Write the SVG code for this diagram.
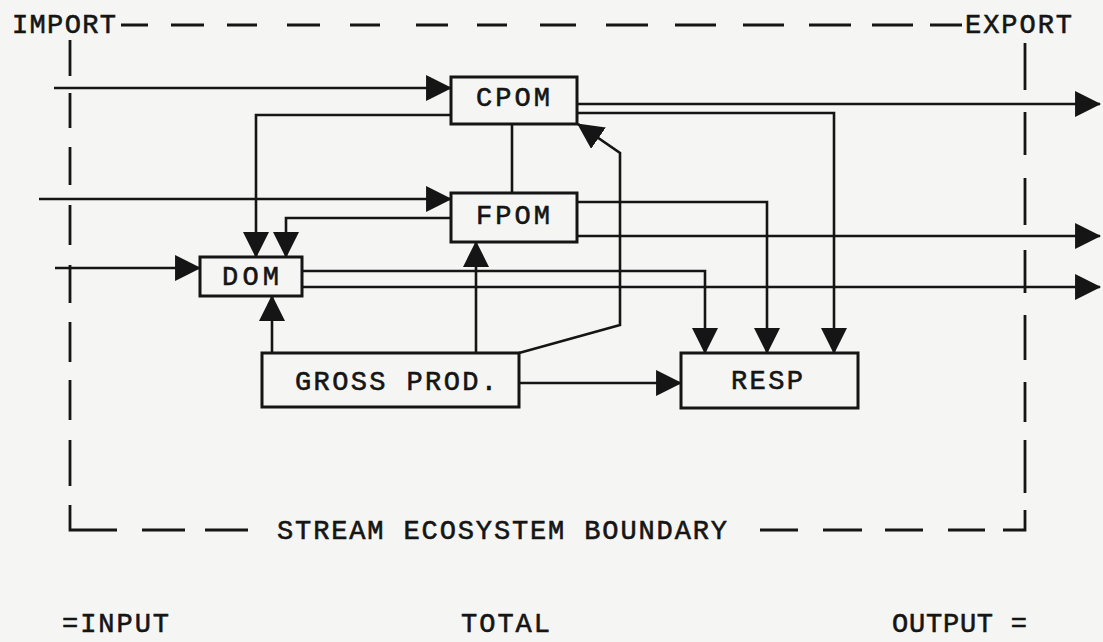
<svg xmlns="http://www.w3.org/2000/svg" width="1103" height="642" viewBox="0 0 1103 642">
<style>
.t{font-family:"Liberation Mono","DejaVu Sans Mono",monospace;font-size:27px;fill:#151515;stroke:#151515;stroke-width:0.6}
.box{fill:none;stroke:#151515;stroke-width:3}
.ln{fill:none;stroke:#151515;stroke-width:2.6;stroke-linejoin:miter}
.arr{marker-end:url(#ah)}
.bd{stroke:#151515;stroke-width:2.8;fill:none;stroke-linecap:butt}
</style>
<defs>
<marker id="ah" markerUnits="userSpaceOnUse" markerWidth="26" markerHeight="26" viewBox="0 0 24 24" refX="23" refY="12" orient="auto">
<path d="M0,0 L24,12 L0,24 z" fill="#151515"/>
</marker>
</defs>
<rect x="0" y="0" width="1103" height="642" fill="#f5f5f3"/>

<g id="boundary">
<path class="bd" d="M121,25H148M171,25H204M227,25H257M287,25H320M350,25H380M416,25H448M477,25H507M540,25H576M606,25H648M675,25H716M743,25H784M809,25H851M872,25H913M930,25H962"/>
<path class="bd" d="M70,40V76M70,93V128M70,147V185M70,205V245M70,265V303M70,322V362M70,380V420M70,440V486M70,505V530H117M142,530H185M205,530H248"/>
<path class="bd" d="M1025,43V90M1025,112V155M1025,178V225M1025,250V293M1025,315V360M1025,382V422M1025,440V493M1025,510V530H1003M985,530H948M923,530H885M862,530H823M798,530H760"/>
<text class="t" x="12" y="33" textLength="104">IMPORT</text>
<text class="t" x="965" y="33" textLength="107">EXPORT</text>
<text class="t" x="277" y="539" textLength="450">STREAM ECOSYSTEM BOUNDARY</text>
</g>

<g id="connectors">
<path class="ln arr" d="M54,88H451"/>
<path class="ln arr" d="M39,199H451"/>
<path class="ln arr" d="M55,268H200"/>
<path class="ln arr" d="M451,115H256V257"/>
<path class="ln arr" d="M451,218H286V257"/>
<path class="ln arr" d="M577,104H1100"/>
<path class="ln arr" d="M577,113H834V353"/>
<path class="ln" d="M512,124V193"/>
<path class="ln arr" d="M577,202H767V353"/>
<path class="ln arr" d="M577,236H1100"/>
<path class="ln arr" d="M302,271H705V353"/>
<path class="ln arr" d="M302,287H1100"/>
<path class="ln arr" d="M272,353V296"/>
<path class="ln arr" d="M476,353V242"/>
<path class="ln arr" d="M519,353L620,325V153L578,124"/>
<path class="ln arr" d="M519,383H681"/>
</g>

<g id="cpom">
<rect class="box" x="451" y="77" width="126" height="47"/>
<text class="t" x="476" y="106" textLength="74">CPOM</text>
</g>
<g id="fpom">
<rect class="box" x="451" y="193" width="126" height="49"/>
<text class="t" x="476" y="224" textLength="74">FPOM</text>
</g>
<g id="dom">
<rect class="box" x="200" y="257" width="102" height="39"/>
<text class="t" x="222" y="285" textLength="57">DOM</text>
</g>
<g id="gross-prod">
<rect class="box" x="262" y="353" width="257" height="54"/>
<text class="t" x="295" y="390" textLength="202">GROSS PROD.</text>
</g>
<g id="resp">
<rect class="box" x="681" y="353" width="177" height="55"/>
<text class="t" x="731" y="389" textLength="72">RESP</text>
</g>

<g id="legend">
<text class="t" x="62" y="632" textLength="107">=INPUT</text>
<text class="t" x="461" y="632" textLength="89">TOTAL</text>
<text class="t" x="892" y="632" textLength="135">OUTPUT =</text>
</g>
</svg>
